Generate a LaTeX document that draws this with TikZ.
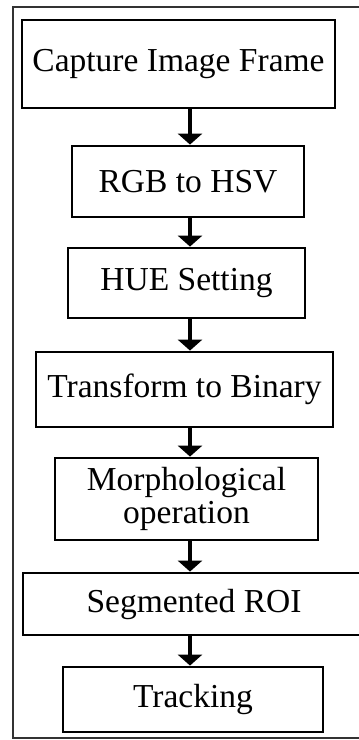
\documentclass[tikz,border=0pt]{standalone}
\usepackage{fontspec}
\setmainfont{Liberation Serif}
\usetikzlibrary{arrows.meta, positioning}
\tikzset{
  stepbox/.style={rectangle, draw, line width=2.8pt, fill=white, align=center,
                  inner sep=0pt, font=\fontsize{33.5}{33}\selectfont},
  flowarrow/.style={-{Triangle[length=11pt, width=24pt]}, line width=4pt},
  outerframe/.style={draw=black!80, line width=1.6pt},
}

\begin{document}
\begin{tikzpicture}[x=1pt, y=-1pt]
  \useasboundingbox (0,0) rectangle (359,740);

  % Outer frame
  \draw[outerframe] (370,7) -- (13,7) -- (13,738) -- (370,738);

  % Steps
  \node[stepbox, minimum width=313pt, minimum height=88pt] (cap)   at (178.5,64)  {Capture Image Frame};
  \node[stepbox, minimum width=232pt, minimum height=71pt] (rgb)   at (188,181.5) {RGB to HSV};
  \node[stepbox, minimum width=237pt, minimum height=70pt] (hue)   at (186.5,283) {HUE Setting};
  \node[stepbox, minimum width=297pt, minimum height=75pt] (bin)   at (184.5,389.5) {Transform to Binary};
  \node[stepbox, minimum width=263pt, minimum height=82pt] (morph) at (186.5,499) {Morphological\\operation};
  \node[stepbox, minimum width=342pt, minimum height=62pt] (roi)   at (194,604)   {Segmented ROI};
  \node[stepbox, minimum width=260pt, minimum height=65pt] (track) at (193,699.5) {Tracking};

  % Arrows
  \coordinate (axis) at (190,0);
  \draw[flowarrow] (cap.south -| axis) -- (rgb.north -| axis);
  \draw[flowarrow] (rgb.south -| axis) -- (hue.north -| axis);
  \draw[flowarrow] (hue.south -| axis) -- (bin.north -| axis);
  \draw[flowarrow] (bin.south -| axis) -- (morph.north -| axis);
  \draw[flowarrow] (morph.south -| axis) -- (roi.north -| axis);
  \draw[flowarrow] (roi.south -| axis) -- (track.north -| axis);

\end{tikzpicture}
\end{document}
